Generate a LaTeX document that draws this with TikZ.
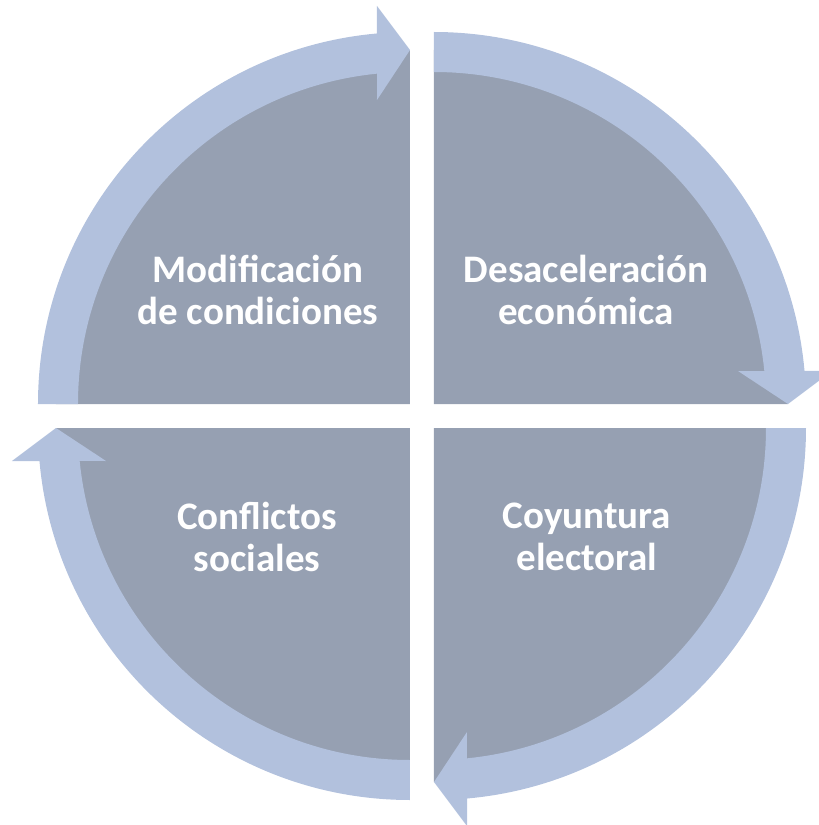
\documentclass[tikz,border=0pt]{standalone}
\usepackage{fontspec}
\setmainfont{Carlito}
\definecolor{sectorgray}{RGB}{150,160,178}
\definecolor{ringblue}{RGB}{178,193,221}

\begin{document}
\begin{tikzpicture}[x=1pt,y=1pt,
    sector/.style={fill=sectorgray},
    ring/.style={fill=ringblue},
    quadtext/.style={text=white, font=\fontsize{39}{42}\selectfont\bfseries, align=center}]
    % Frame
    \useasboundingbox (-422,-409) rectangle (397,416);
    \clip (-422,-409) rectangle (397,416);

    % Four quadrants: grey sector with a curved arrow round it
    \foreach \r in {0,-90,-180,-270} {
        \begin{scope}[rotate=\r, shift={(-12,12)}]
            \fill[sector] (0,0) -- (180:354) arc (180:90:354) -- cycle;
            \fill[ring] (180:372) arc (180:95.1:372) -- (-33,398) -- (90:354)
                -- (-33,304) -- (95.7:332) arc (95.7:180:332) -- cycle;
        \end{scope}
    }

    % Labels
    \node[quadtext] (modif) at (-164,126) {Modificación\\de condiciones};
    \node[quadtext] (desac) at (164,126) {Desaceleración\\económica};
    \node[quadtext] (coyun) at (165,-121) {Coyuntura\\electoral};
    \node[quadtext] (confl) at (-165,-121) {Conflictos\\sociales};
\end{tikzpicture}
\end{document}
